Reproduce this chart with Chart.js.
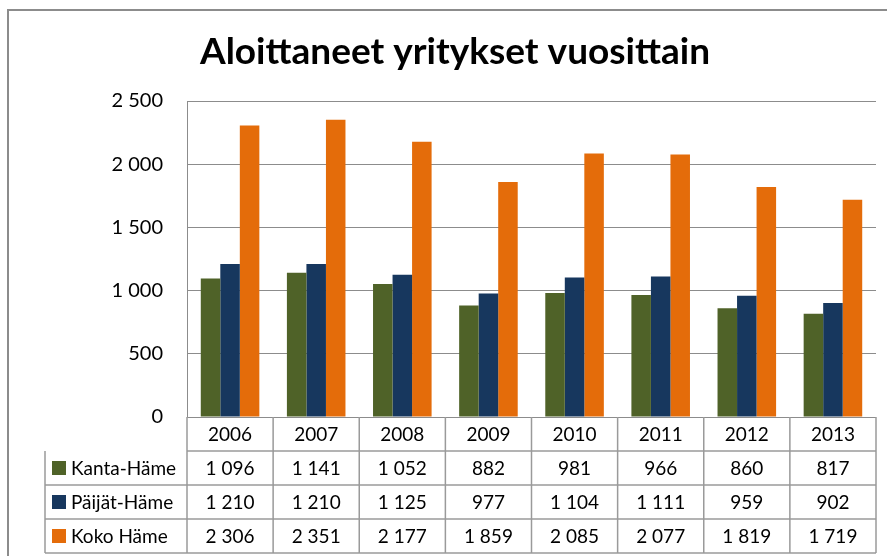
<!DOCTYPE html>
<html>
<head>
<meta charset="utf-8">
<script src="https://cdn.jsdelivr.net/npm/chart.js@4.4.1/dist/chart.umd.min.js"></script>
<style>
html,body{margin:0;padding:0;background:#fff;overflow:hidden}
#myChart{display:block}
</style>
</head>
<body>
<canvas id="myChart" width="887" height="556"></canvas>
<script>
const years=['2006','2007','2008','2009','2010','2011','2012','2013'];
const kantaHame=[1096,1141,1052,882,981,966,860,817];
const paijatHame=[1210,1210,1125,977,1104,1111,959,902];
const kokoHame=[2306,2351,2177,1859,2085,2077,1819,1719];
const seriesNames=['Kanta-Häme','Päijät-Häme','Koko Häme'];
const seriesColors=['#4f6228','#17375e','#e46c0a'];
const title='Aloittaneet yritykset vuosittain';

const FONT='Lato, "Open Sans", sans-serif';
function fmt(v){
    return String(v).replace(/\B(?=(\d{3})+(?!\d))/g,' ');
}

// frame, title and the data table under the plot
const tablePlugin={
    id:'table',
    afterDraw(chart){
        const c=chart.ctx;
        const area=chart.chartArea;
        const x=chart.scales.x;
        const n=years.length;
        const colW=(area.right-area.left)/n;
        const rowH=34;
        const labelLeft=45;
        const top=area.bottom;
        c.save();
        // outer frame
        c.strokeStyle='#8c8c8c';
        c.lineWidth=2;
        c.strokeRect(8,10,1000,700);
        // title
        c.fillStyle='#000';
        c.font='bold 37px '+FONT;
        c.textAlign='center';
        c.textBaseline='middle';
        c.fillText(title,455,52);

        c.strokeStyle='#9a9a9a';
        c.lineWidth=1.5;
        // header row
        c.beginPath();
        c.moveTo(area.left,top+rowH);c.lineTo(area.right,top+rowH);
        for(let r=2;r<=4;r++){
            c.moveTo(labelLeft,top+r*rowH);c.lineTo(area.right,top+r*rowH);
        }
        c.moveTo(labelLeft,top+rowH);c.lineTo(labelLeft,top+4*rowH);
        for(let i=0;i<=n;i++){
            const px=i<n?x.getPixelForValue(i)-colW/2:x.getPixelForValue(n-1)+colW/2;
            c.moveTo(px,top);c.lineTo(px,top+4*rowH);
        }
        c.stroke();

        c.font='19px '+FONT;
        c.fillStyle='#000';
        c.textAlign='center';
        years.forEach((y,i)=>{
            c.fillText(y,x.getPixelForValue(i),top+rowH/2+1);
        });
        const data=[kantaHame,paijatHame,kokoHame];
        data.forEach((row,r)=>{
            const cy=top+(r+1)*rowH+rowH/2+1;
            c.fillStyle=seriesColors[r];
            c.fillRect(labelLeft+7,cy-8,14,14);
            c.fillStyle='#000';
            c.textAlign='left';
            c.fillText(seriesNames[r],labelLeft+26,cy);
            c.textAlign='center';
            row.forEach((v,i)=>{
                c.fillText(fmt(v),x.getPixelForValue(i),cy);
            });
        });
        c.restore();
    }
};

const ctx=document.getElementById('myChart').getContext('2d');
const myChart=new Chart(ctx,{
    type:'bar',
    data:{
        labels:years,
        datasets:[
            {label:seriesNames[0],data:kantaHame,backgroundColor:seriesColors[0]},
            {label:seriesNames[1],data:paijatHame,backgroundColor:seriesColors[1]},
            {label:seriesNames[2],data:kokoHame,backgroundColor:seriesColors[2]}
        ]
    },
    options:{
        responsive:false,
        animation:false,
        datasets:{bar:{barPercentage:1,categoryPercentage:0.68}},
        layout:{padding:{left:0,top:101,right:11,bottom:139}},
        plugins:{legend:{display:false},title:{display:false},tooltip:{enabled:false}},
        scales:{
            x:{display:false},
            y:{
                min:0,max:2500,
                afterFit(s){s.width=187;},
                ticks:{stepSize:500,color:'#000',padding:24,font:{family:FONT,size:20},callback:v=>fmt(v)},
                grid:{color:'#8c8c8c',lineWidth:1,drawTicks:false},
                border:{display:true,color:'#8c8c8c',width:1}
            }
        }
    },
    plugins:[tablePlugin]
});
</script>
</body>
</html>
